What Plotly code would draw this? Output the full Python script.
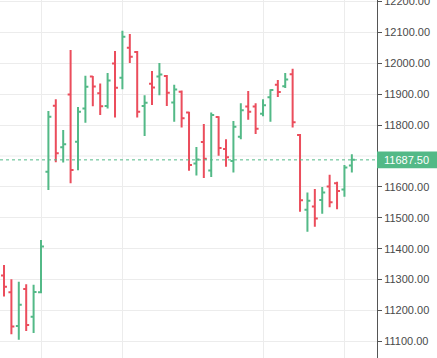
import plotly.graph_objects as go

# OHLC values (bar index 0..47)
opens = [11313, 11259, 11150, 11270, 11180, 11259, 11649, 11863, 11728, 11899,
         11746, 11854, 11957, 11903, 11862, 11999, 11953, 12050, 12037, 11862,
         11934, 11957, 11959, 11873, 11908, 11841, 11676, 11745, 11653, 11826,
         11723, 11684, 11762, 11860, 11860, 11837, 11890, 11931, 11926, 11965,
         11768, 11526, 11537, 11558, 11601, 11612, 11592, 11669]
highs = [11347, 11301, 11293, 11285, 11283, 11428, 11846, 11884, 11784, 12043,
         11859, 11960, 11959, 11935, 11969, 12040, 12105, 12095, 12040, 11897,
         11975, 12001, 11962, 11931, 11912, 11843, 11729, 11804, 11841, 11829,
         11754, 11813, 11871, 11910, 11871, 11884, 11916, 11946, 11969, 11982,
         11771, 11582, 11593, 11600, 11639, 11617, 11671, 11706]
lows = [11245, 11123, 11105, 11134, 11127, 11256, 11590, 11680, 11679, 11612,
        11654, 11808, 11861, 11833, 11854, 11825, 11916, 12001, 11825, 11765,
        11865, 11897, 11862, 11811, 11792, 11652, 11637, 11629, 11632, 11701,
        11665, 11647, 11754, 11817, 11771, 11829, 11811, 11891, 11920, 11792,
        11520, 11455, 11471, 11513, 11534, 11528, 11568, 11647]
closes = [11277, 11148, 11219, 11153, 11260, 11407, 11827, 11709, 11738, 11655,
          11843, 11924, 11925, 11861, 11944, 11921, 12086, 12021, 11843, 11872,
          11922, 11964, 11905, 11915, 11822, 11671, 11689, 11691, 11833, 11726,
          11696, 11795, 11848, 11843, 11788, 11864, 11914, 11907, 11948, 11809,
          11557, 11555, 11498, 11582, 11550, 11587, 11663, 11687.5]
bar_index = list(range(len(opens)))
grid_bars = [5, 16, 35, 46]
# 11700 label sits under the last-price badge, so only its grid line is drawn
y_ticks = [11100, 11200, 11300, 11400, 11500, 11600, 11800, 11900,
           12000, 12100, 12200]
hidden_grid = 11700
last_price = 11687.5
last_label = "11687.50"

UP = "#53b987"
DOWN = "#eb4d5c"
GRID = "#ececec"

fig = go.Figure(go.Ohlc(
    x=bar_index, open=opens, high=highs, low=lows, close=closes,
    increasing=dict(line=dict(color=UP, width=2)),
    decreasing=dict(line=dict(color=DOWN, width=2)),
    tickwidth=0.4, hoverinfo="skip",
))

fig.add_shape(type="line", xref="paper", x0=0, x1=1, yref="y",
              y0=hidden_grid, y1=hidden_grid,
              line=dict(color=GRID, width=1), layer="below")
fig.add_shape(type="line", xref="paper", x0=0, x1=1, yref="y",
              y0=last_price, y1=last_price,
              line=dict(color=UP, width=1, dash="dot"), layer="above")
fig.add_shape(type="rect", xref="paper", x0=1.0, x1=1.2, yref="y",
              y0=last_price - 27, y1=last_price + 27,
              fillcolor=UP, line=dict(width=0), layer="above")
fig.add_annotation(xref="paper", x=1.0, xanchor="left", xshift=5,
                   yref="y", y=last_price, yanchor="middle",
                   text=last_label, showarrow=False,
                   font=dict(family="Liberation Sans", size=11, color="white"))

fig.update_layout(
    width=437, height=358,
    margin=dict(l=0, r=60, t=0, b=0, autoexpand=False),
    paper_bgcolor="white", plot_bgcolor="white",
    showlegend=False,
    xaxis=dict(range=[-0.54, 50.4], rangeslider=dict(visible=False),
               tickvals=grid_bars, showticklabels=False, ticks="",
               showgrid=True, gridcolor=GRID, gridwidth=1, automargin=False,
               zeroline=False, showline=False),
    yaxis=dict(side="right", range=[11046.3, 12204.9], automargin=False,
               tickvals=y_ticks, tickformat=".2f", ticklabeloverflow="allow",
               showgrid=True, gridcolor=GRID, gridwidth=1,
               zeroline=False, showline=True, linecolor="#555555", linewidth=1,
               ticks="outside", ticklen=4, tickcolor="#555555",
               tickfont=dict(family="Liberation Sans", size=11, color="#4a4a4a")),
)

fig.write_html("out.html",
               config={"displayModeBar": False},
               post_script="document.body.style.margin='0';"
                           "document.body.style.overflow='hidden';")
